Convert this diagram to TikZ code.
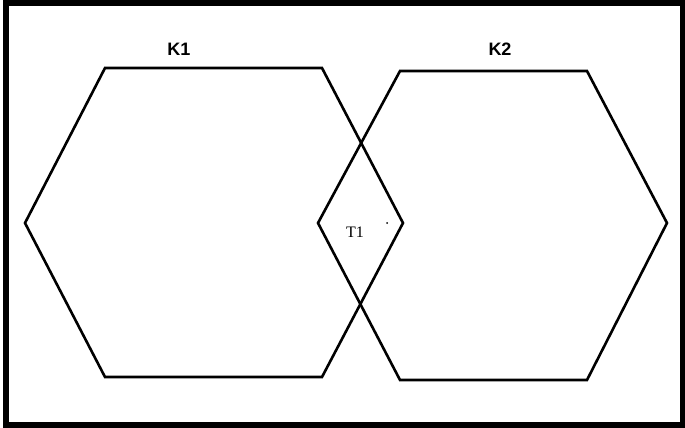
\documentclass[tikz,border=0pt]{standalone}
\usepackage{fontspec}
\setmainfont{Liberation Serif}
\newfontfamily\labfont{Liberation Sans}
\begin{document}
\begin{tikzpicture}[x=1pt,y=-1pt,
  hexline/.style={line width=2.6pt,line join=miter},
  framebox/.style={line width=6pt},
  klabel/.style={font=\labfont\fontsize{18}{20}\selectfont\bfseries,inner sep=0pt,anchor=center},
  tlabel/.style={font=\fontsize{16}{18}\selectfont,inner sep=0pt,anchor=center}]
\useasboundingbox (0,0) rectangle (685,428);
\fill[white] (0,0) rectangle (685,428);
\draw[framebox] (6,3) rectangle (683,424.5);
% K1 hexagon
\coordinate (a1) at (25,223);
\coordinate (a2) at (105,68);
\coordinate (a3) at (322,68);
\coordinate (a4) at (403,223);
\coordinate (a5) at (322,377);
\coordinate (a6) at (105,377);
\draw[hexline] (a1) -- (a2) -- (a3) -- (a4) -- (a5) -- (a6) -- cycle;
% K2 hexagon
\coordinate (b1) at (318,223);
\coordinate (b2) at (400,71);
\coordinate (b3) at (587,71);
\coordinate (b4) at (667,223);
\coordinate (b5) at (587,380);
\coordinate (b6) at (400,380);
\draw[hexline] (b1) -- (b2) -- (b3) -- (b4) -- (b5) -- (b6) -- cycle;
\node[klabel] (k1) at (179,49) {K1};
\node[klabel] (k2) at (500,49) {K2};
\node[tlabel] (t1) at (355,232.5) {T1};
\fill (387,223) circle (1pt);
\end{tikzpicture}
\end{document}
